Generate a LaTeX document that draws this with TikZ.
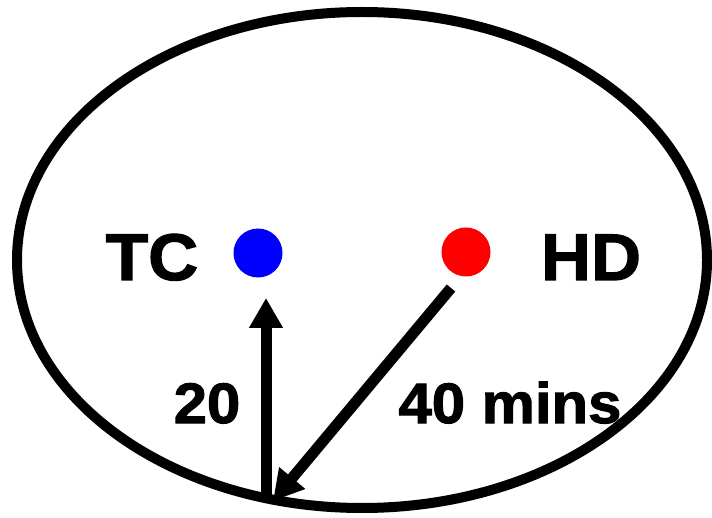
\documentclass[tikz,border=0pt]{standalone}
\usepackage{fontspec}
\usetikzlibrary{arrows.meta}
\newfontfamily\heavyfont[FakeStretch=1.05,FakeBold=1.8]{Liberation Sans}
\tikzset{
	spot/.style={circle, inner sep=0pt, minimum size=49pt},
	citylabel/.style={anchor=base, font=\heavyfont\bfseries\fontsize{66pt}{66pt}\selectfont},
	timelabel/.style={anchor=base, font=\heavyfont\bfseries\fontsize{57pt}{57pt}\selectfont},
	route/.style={-{Triangle[width=32pt,length=30pt]}, line width=11pt, black}
}
\begin{document}
\begin{tikzpicture}[x=1pt, y=-1pt]
		\useasboundingbox (0, 0) rectangle (712, 518);

		\draw[black, line width=10pt]	(362, 260) ellipse (345pt and 248pt);

		\node[spot, fill=blue]	(tc) at (258, 253) {};
		\node[spot, fill=red]	(hd) at (466, 252) {};

		\node[citylabel]	(tclabel) at (152, 280) {TC};
		\node[citylabel]	(hdlabel) at (591, 280) {HD};

		% rim points on the ellipse
		\coordinate	(rimup)		at (266, 496);
		\coordinate	(tipup)		at (266, 298);
		\coordinate	(startdown)	at (451, 288);
		\coordinate	(rimdown)	at (273, 501);

		\draw[route]	(rimup) to (tipup);
		\draw[route]	(startdown) to (rimdown);

		\node[timelabel]	(short) at (207, 423) {20};
		\node[timelabel]	(long) at (510, 423) {40 mins};
	\end{tikzpicture}
\end{document}
